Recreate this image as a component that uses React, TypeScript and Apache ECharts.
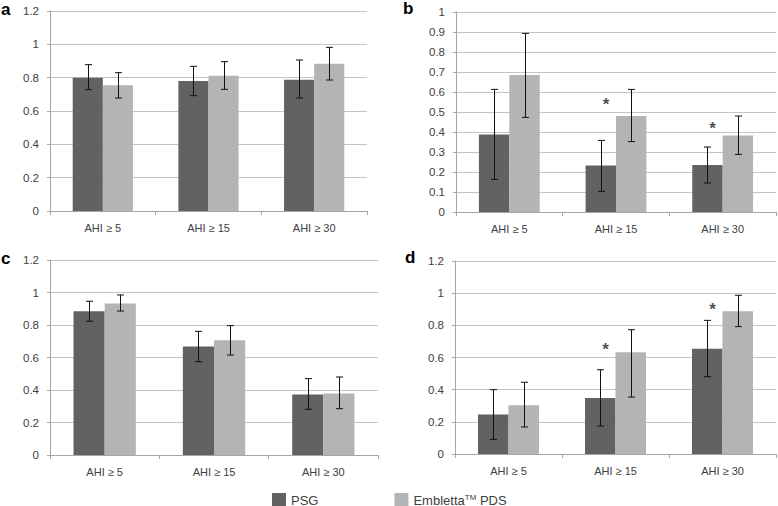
import React, { useEffect, useRef } from "react";
import * as echarts from "echarts";

const categories = ["AHI ≥ 5", "AHI ≥ 15", "AHI ≥ 30"];

// Panel a
const psgA = [0.8, 0.78, 0.788];
const psgALow = [0.728, 0.692, 0.678];
const psgAHigh = [0.878, 0.868, 0.906];
const embA = [0.754, 0.812, 0.884];
const embALow = [0.678, 0.73, 0.786];
const embAHigh = [0.83, 0.896, 0.982];
const starsA: number[][] = [];

// Panel b
const psgB = [0.388, 0.232, 0.235];
const psgBLow = [0.163, 0.103, 0.145];
const psgBHigh = [0.613, 0.358, 0.325];
const embB = [0.685, 0.48, 0.382];
const embBLow = [0.473, 0.352, 0.288];
const embBHigh = [0.893, 0.613, 0.48];
const starsB = [[1, 0.553], [2, 0.432]];

// Panel c
const psgC = [0.884, 0.667, 0.373];
const psgCLow = [0.823, 0.574, 0.281];
const psgCHigh = [0.946, 0.761, 0.47];
const embC = [0.933, 0.706, 0.379];
const embCLow = [0.886, 0.615, 0.285];
const embCHigh = [0.985, 0.796, 0.48];
const starsC: number[][] = [];

// Panel d
const psgD = [0.245, 0.348, 0.655];
const psgDLow = [0.091, 0.174, 0.481];
const psgDHigh = [0.4, 0.524, 0.831];
const embD = [0.303, 0.632, 0.887];
const embDLow = [0.168, 0.354, 0.792];
const embDHigh = [0.446, 0.773, 0.987];
const starsD = [[1, 0.667], [2, 0.92]];

const yMax = [1.2, 1, 1.2, 1.2];
const yStep = [0.2, 0.1, 0.2, 0.2];
const panelLetters = ["a", "b", "c", "d"];

const DARK = "#626262";
const LIGHT = "#b4b4b4";
const BAR_FRAC = 0.285;
const FONT = "Liberation Sans";

const panels = [
  { psg: psgA, lo1: psgALow, hi1: psgAHigh, emb: embA, lo2: embALow, hi2: embAHigh, stars: starsA },
  { psg: psgB, lo1: psgBLow, hi1: psgBHigh, emb: embB, lo2: embBLow, hi2: embBHigh, stars: starsB },
  { psg: psgC, lo1: psgCLow, hi1: psgCHigh, emb: embC, lo2: embCLow, hi2: embCHigh, stars: starsC },
  { psg: psgD, lo1: psgDLow, hi1: psgDHigh, emb: embD, lo2: embDLow, hi2: embDHigh, stars: starsD },
];

const grids = [
  { left: 50, top: 11, width: 317, height: 200 },
  { left: 456, top: 12, width: 320, height: 200 },
  { left: 50, top: 260, width: 328, height: 195 },
  { left: 455, top: 261, width: 321, height: 193 },
];

const letterPos = [
  { left: 1, top: 1 },
  { left: 403, top: 0 },
  { left: 1, top: 250 },
  { left: 405, top: 249 },
];

function errRender(side: number) {
  return (params: any, api: any) => {
    const idx = api.value(0);
    const lo = api.coord([idx, api.value(1)]);
    const hi = api.coord([idx, api.value(2)]);
    const bw = api.size([1, 0])[0] * BAR_FRAC;
    const x = Math.round(lo[0] + (side * bw) / 2) + 0.5;
    const cap = 3.5;
    const style = { stroke: "#111", lineWidth: 1 };
    return {
      type: "group",
      children: [
        { type: "line", shape: { x1: x, y1: lo[1], x2: x, y2: hi[1] }, style },
        { type: "line", shape: { x1: x - cap, y1: lo[1], x2: x + cap, y2: lo[1] }, style },
        { type: "line", shape: { x1: x - cap, y1: hi[1], x2: x + cap, y2: hi[1] }, style },
      ],
    };
  };
}

export default function App() {
  const ref = useRef<HTMLDivElement>(null);
  useEffect(() => {
    if (!ref.current) return;
    const chart = echarts.init(ref.current, null, { renderer: "svg" });
    const xAxis: any[] = [];
    const yAxis: any[] = [];
    const series: any[] = [];
    panels.forEach((p, i) => {
      xAxis.push({
        type: "category",
        gridIndex: i,
        data: categories,
        axisLine: { lineStyle: { color: "#a6a6a6" } },
        axisTick: { show: true, length: 4, lineStyle: { color: "#a6a6a6" } },
        axisLabel: { color: "#404040", fontSize: 11, fontFamily: FONT, margin: 11 },
      });
      yAxis.push({
        type: "value",
        gridIndex: i,
        min: 0,
        max: yMax[i],
        interval: yStep[i],
        axisLine: { show: true, lineStyle: { color: "#a6a6a6" } },
        axisTick: { show: true, length: 3, lineStyle: { color: "#a6a6a6" } },
        splitLine: { lineStyle: { color: "#c4c4c4" } },
        axisLabel: { color: "#404040", fontSize: 11.5, fontFamily: FONT, margin: 11 },
      });
      series.push({
        name: "PSG",
        type: "bar",
        xAxisIndex: i,
        yAxisIndex: i,
        data: p.psg,
        barWidth: BAR_FRAC * 100 + "%",
        barGap: "0%",
        itemStyle: { color: DARK },
      });
      series.push({
        name: "Embletta PDS",
        type: "bar",
        xAxisIndex: i,
        yAxisIndex: i,
        data: p.emb,
        barWidth: BAR_FRAC * 100 + "%",
        barGap: "0%",
        itemStyle: { color: LIGHT },
      });
      series.push({
        type: "custom",
        xAxisIndex: i,
        yAxisIndex: i,
        renderItem: errRender(-1),
        encode: { x: 0, y: [1, 2] },
        data: p.psg.map((_, k) => [k, p.lo1[k], p.hi1[k]]),
        z: 5,
        silent: true,
      });
      series.push({
        type: "custom",
        xAxisIndex: i,
        yAxisIndex: i,
        renderItem: errRender(1),
        encode: { x: 0, y: [1, 2] },
        data: p.emb.map((_, k) => [k, p.lo2[k], p.hi2[k]]),
        z: 5,
        silent: true,
      });
      if (p.stars.length) {
        series.push({
          type: "scatter",
          xAxisIndex: i,
          yAxisIndex: i,
          symbolSize: 0,
          data: p.stars,
          z: 6,
          silent: true,
          label: {
            show: true,
            position: "inside",
            formatter: "*",
            offset: [-10, 3],
            color: "#222",
            fontSize: 17,
            fontWeight: "bold",
            fontFamily: FONT,
          },
        });
      }
    });

    const option: any = {
      animation: false,
      backgroundColor: "#fff",
      grid: grids.map((g) => ({ ...g, containLabel: false })),
      xAxis,
      yAxis,
      series,
      legend: {
        left: 267,
        top: 488,
        itemWidth: 14,
        itemHeight: 14,
        itemGap: 76,
        icon: "rect",
        data: ["PSG", "Embletta PDS"],
        textStyle: {
          color: "#404040",
          fontSize: 13,
          lineHeight: 14,
          fontFamily: FONT,
          rich: {
            n: { fontSize: 13, lineHeight: 14, fontFamily: FONT, color: "#404040" },
            sup: { fontSize: 8, lineHeight: 14, fontFamily: FONT, color: "#404040", verticalAlign: "top" },
          },
        },
        formatter: (name: string) =>
          name === "PSG" ? "{n|PSG}" : "{n|Embletta}{sup|TM}{n| PDS}",
      },
      graphic: panelLetters.map((l, i) => ({
        type: "text",
        left: letterPos[i].left,
        top: letterPos[i].top,
        style: { text: l, fontSize: 17, fontWeight: "bold", fontFamily: "Liberation Sans", fill: "#000" },
      })),
    };
    chart.setOption(option);
    return () => chart.dispose();
  }, []);
  return (
    <div
      ref={ref}
      style={{ position: "absolute", left: 0, top: 0, width: 778, height: 506 }}
    />
  );
}
